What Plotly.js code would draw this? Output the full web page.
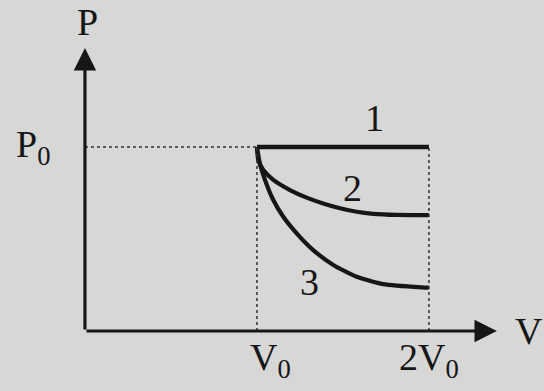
<!DOCTYPE html>
<html><head><meta charset="utf-8">
<script src="https://cdn.plot.ly/plotly-3.0.1.min.js"></script>
<style>html,body{margin:0;padding:0;background:#d7d7d5;}#c{width:544px;height:391px;}</style>
</head><body><div id="c"></div>
<script>
// P-V diagram, V in units of V0, P in units of P0
const curve1V = [1, 2];
const curve1P = [1, 1];
const curve2V = [1, 1.008, 1.037, 1.095, 1.192, 1.289, 1.385, 1.483, 1.58, 1.676, 1.812, 1.958, 2];
const curve2P = [1, 0.929, 0.875, 0.821, 0.766, 0.725, 0.693, 0.667, 0.648, 0.637, 0.631, 0.630, 0.630];
const curve3V = [1, 1.017, 1.047, 1.095, 1.153, 1.231, 1.327, 1.444, 1.58, 1.734, 1.958, 2];
const curve3P = [1, 0.911, 0.821, 0.712, 0.621, 0.531, 0.440, 0.359, 0.295, 0.255, 0.2375, 0.236];
const curveLabels = ['1', '2', '3'];
const labelV = [1.686, 1.558, 1.308];
const labelP = [1.159, 0.777, 0.266];
const xTickVals = [1, 2];
const xTickText = ['V<sub>0</sub>', '2V<sub>0</sub>'];
const yTickVals = [1];
const yTickText = ['P<sub>0</sub>'];

const ink = '#161616';
const font = {family: 'Liberation Serif', size: 38, color: ink};

const traces = [
  {x: curve1V, y: curve1P, mode: 'lines', line: {color: ink, width: 4.5}, hoverinfo: 'skip'},
  {x: curve2V, y: curve2P, mode: 'lines', line: {color: ink, width: 4.2, shape: 'spline', smoothing: 0.6}, hoverinfo: 'skip'},
  {x: curve3V, y: curve3P, mode: 'lines', line: {color: ink, width: 4.2, shape: 'spline', smoothing: 0.6}, hoverinfo: 'skip'}
];

const shapes = [
  // dotted guides
  {type: 'line', x0: 0, x1: 1, y0: 1, y1: 1, line: {color: '#333', width: 1.5, dash: 'dot'}},
  {type: 'line', x0: 1, x1: 1, y0: 0, y1: 1, line: {color: '#333', width: 1.5, dash: 'dot'}},
  {type: 'line', x0: 2, x1: 2, y0: 0, y1: 1, line: {color: '#333', width: 1.5, dash: 'dot'}}
];

const annotations = [];
// axes with arrows
annotations.push({x: 2.395, y: 0, ax: 0, ay: 0, xref: 'x', yref: 'y', axref: 'x', ayref: 'y',
  text: '', showarrow: true, arrowhead: 2, arrowsize: 1.4, arrowwidth: 3.2, arrowcolor: ink});
annotations.push({x: 0, y: 1.538, ax: 0, ay: 0, xref: 'x', yref: 'y', axref: 'x', ayref: 'y',
  text: '', showarrow: true, arrowhead: 2, arrowsize: 1.4, arrowwidth: 3.2, arrowcolor: ink});
// axis names
annotations.push({x: 0, y: 1.68, xref: 'x', yref: 'y', text: 'P', showarrow: false, font: font, xshift: 3});
annotations.push({x: 2.57, y: 0, xref: 'x', yref: 'y', text: 'V', showarrow: false, font: font, xshift: 2});
// tick labels
const tickShift = [14, 0];
xTickVals.forEach((v, i) => annotations.push({x: v, y: -0.16, xref: 'x', yref: 'y', text: xTickText[i],
  showarrow: false, font: font, xshift: tickShift[i]}));
yTickVals.forEach((v, i) => annotations.push({x: -0.3, y: v, xref: 'x', yref: 'y', text: yTickText[i],
  showarrow: false, font: font, xshift: 0}));
// curve labels
curveLabels.forEach((t, i) => annotations.push({x: labelV[i], y: labelP[i], xref: 'x', yref: 'y', text: t,
  showarrow: false, font: font}));

const layout = {
  width: 544, height: 391,
  margin: {l: 0, r: 0, t: 0, b: 0},
  paper_bgcolor: '#d7d7d5', plot_bgcolor: '#d7d7d5',
  showlegend: false,
  xaxis: {range: [-0.494, 2.669], visible: false, fixedrange: true},
  yaxis: {range: [-0.326, 1.799], visible: false, fixedrange: true},
  shapes: shapes,
  annotations: annotations
};
Plotly.newPlot('c', traces, layout, {staticPlot: true, displayModeBar: false});
</script></body></html>
